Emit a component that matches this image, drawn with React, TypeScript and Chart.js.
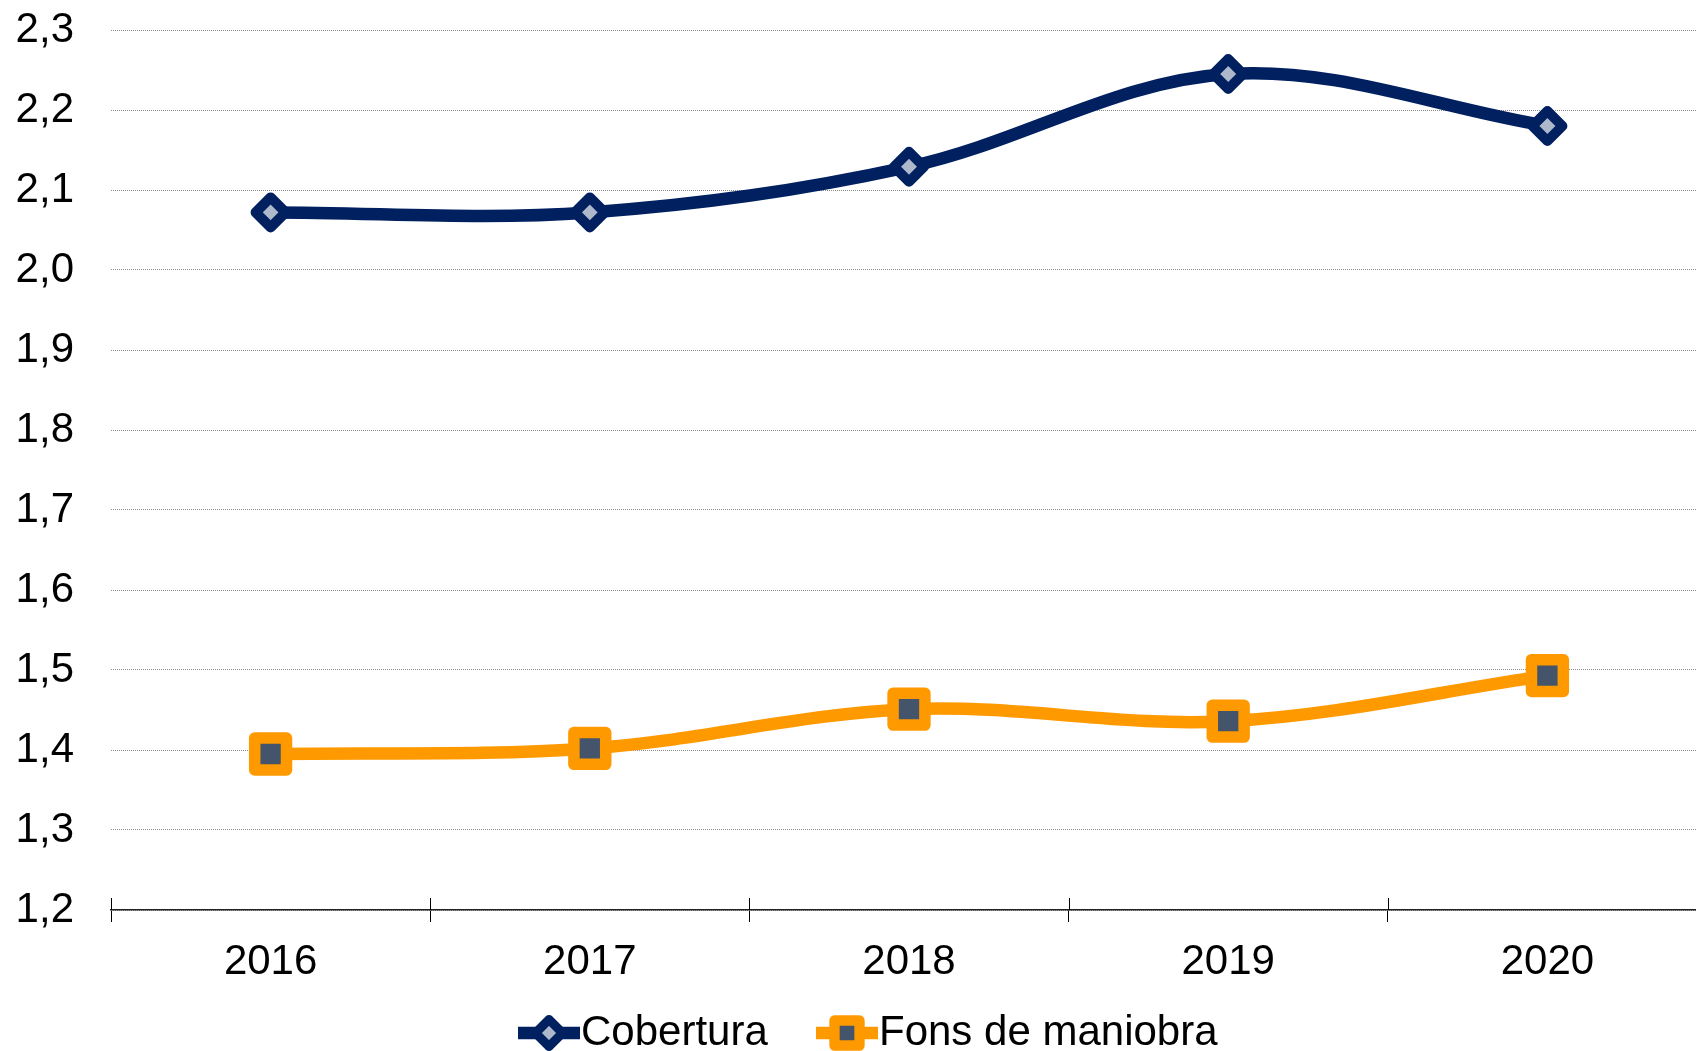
import React, { useEffect, useRef } from 'react';
import { Chart, registerables } from 'chart.js';

Chart.register(...registerables);

// ---- data ----
const years = ['2016', '2017', '2018', '2019', '2020'];
const cobertura = [2.072, 2.072, 2.129, 2.245, 2.18];
const fonsDeManiobra = [1.395, 1.402, 1.451, 1.436, 1.493];
const seriesNames = ['Cobertura', 'Fons de maniobra'];
const yMin = 1.2;
const yMax = 2.3;
const yStep = 0.1;

// ---- style ----
const NAVY = '#002060';
const NAVY_FILL = '#ADB9CA';
const ORANGE = '#FF9900';
const SLATE = '#44546A';
const FONT = "'Liberation Sans', Arial, sans-serif";
const FONT_SIZE = 42;
const CANVAS_W = 1707;
const CANVAS_H = 1051;
const LEGEND_Y = 1033;
const LEGEND_X = [518, 816];

function diamondPath(ctx: CanvasRenderingContext2D, x: number, y: number, r: number) {
  ctx.beginPath();
  ctx.moveTo(x - r, y);
  ctx.lineTo(x, y - r);
  ctx.lineTo(x + r, y);
  ctx.lineTo(x, y + r);
  ctx.closePath();
}

function squarePath(ctx: CanvasRenderingContext2D, x: number, y: number, h: number) {
  ctx.beginPath();
  ctx.rect(x - h, y - h, 2 * h, 2 * h);
}

const roundJoinPlugin = {
  id: 'roundJoin',
  beforeDatasetsDraw(chart: any) {
    chart.ctx.save();
    chart.ctx.lineJoin = 'round';
  },
  afterDatasetsDraw(chart: any) {
    chart.ctx.restore();
  },
};

const upperTicksPlugin = {
  id: 'upperTicks',
  afterDraw(chart: any) {
    const ctx = chart.ctx as CanvasRenderingContext2D;
    const xs = chart.scales.x;
    const y0 = chart.chartArea.bottom;
    ctx.save();
    ctx.strokeStyle = '#000';
    ctx.lineWidth = 1;
    for (let i = 0; i <= years.length; i++) {
      const x = Math.round(xs.getPixelForValue(i - 0.5)) + 0.5;
      ctx.beginPath();
      ctx.moveTo(x, y0 - 12);
      ctx.lineTo(x, y0);
      ctx.stroke();
    }
    ctx.restore();
  },
};

const legendPlugin = {
  id: 'customLegend',
  afterDraw(chart: any) {
    const ctx = chart.ctx as CanvasRenderingContext2D;
    ctx.save();
    chart.data.datasets.forEach((ds: any, i: number) => {
      const x0 = LEGEND_X[i];
      const cx = x0 + 31;
      ctx.strokeStyle = ds.borderColor;
      ctx.lineWidth = ds.borderWidth;
      ctx.lineCap = 'butt';
      ctx.beginPath();
      ctx.moveTo(x0, LEGEND_Y);
      ctx.lineTo(x0 + 62, LEGEND_Y);
      ctx.stroke();
      ctx.lineJoin = 'round';
      if (i === 0) {
        diamondPath(ctx, cx, LEGEND_Y, 13.5);
      } else {
        squarePath(ctx, cx, LEGEND_Y, 12.5);
      }
      ctx.fillStyle = ds.pointBackgroundColor;
      ctx.fill();
      ctx.lineWidth = ds.pointBorderWidth * 0.9;
      ctx.strokeStyle = ds.pointBorderColor;
      ctx.stroke();
      ctx.fillStyle = '#000';
      ctx.font = `${FONT_SIZE}px ${FONT}`;
      ctx.textBaseline = 'middle';
      ctx.textAlign = 'left';
      ctx.fillText(ds.label, x0 + 63, LEGEND_Y);
    });
    ctx.restore();
  },
};

export default function App() {
  const ref = useRef<HTMLCanvasElement | null>(null);

  useEffect(() => {
    if (!ref.current) return;
    const chart = new Chart(ref.current, {
      type: 'line',
      data: {
        labels: years,
        datasets: [
          {
            label: seriesNames[0],
            data: cobertura,
            borderColor: NAVY,
            borderWidth: 12.5,
            tension: 0.35,
            pointStyle: 'rectRot',
            pointRadius: 15,
            pointBorderWidth: 10,
            pointBorderColor: NAVY,
            pointBackgroundColor: NAVY_FILL,
            pointHoverRadius: 15,
          },
          {
            label: seriesNames[1],
            data: fonsDeManiobra,
            borderColor: ORANGE,
            borderWidth: 12.5,
            tension: 0.35,
            pointStyle: 'rect',
            pointRadius: 22.5,
            pointBorderWidth: 11.5,
            pointBorderColor: ORANGE,
            pointBackgroundColor: SLATE,
            pointHoverRadius: 22.5,
          },
        ],
      },
      options: {
        responsive: false,
        animation: false,
        devicePixelRatio: 1,
        events: [],
        layout: { autoPadding: false, padding: { left: 0, right: 0, top: 30, bottom: 70 } },
        plugins: {
          legend: { display: false },
          tooltip: { enabled: false },
        },
        scales: {
          x: {
            type: 'category',
            offset: true,
            grid: {
              display: true,
              offset: true,
              drawOnChartArea: false,
              drawTicks: true,
              tickLength: 12,
              color: '#000',
              lineWidth: 1,
            },
            border: { display: true, color: '#222', width: 1.5 },
            ticks: {
              color: '#000',
              font: { family: FONT, size: FONT_SIZE },
              padding: 15,
              maxRotation: 0,
              autoSkip: false,
            },
            afterFit: (s: any) => {
              s.height = 71;
              s.paddingLeft = 0;
              s.paddingRight = 0;
            },
          },
          y: {
            min: yMin,
            max: yMax,
            ticks: {
              stepSize: yStep,
              padding: 37,
              color: '#000',
              font: { family: FONT, size: FONT_SIZE },
              callback: (v: any) => Number(v).toFixed(1).replace('.', ','),
            },
            grid: { color: '#8c8c8c', lineWidth: 1, drawTicks: false },
            border: { display: false, dash: [1, 1] },
            afterFit: (s: any) => {
              s.width = 111;
              s.paddingTop = 20;
              s.paddingBottom = 20;
            },
          },
        },
      },
      plugins: [roundJoinPlugin, upperTicksPlugin, legendPlugin],
    } as any);
    return () => chart.destroy();
  }, []);

  return (
    <div
      style={{
        position: 'fixed',
        left: 0,
        top: 0,
        width: 1696,
        height: 1051,
        overflow: 'hidden',
        background: '#fff',
      }}
    >
      <canvas ref={ref} width={CANVAS_W} height={CANVAS_H} style={{ display: 'block' }} />
    </div>
  );
}
